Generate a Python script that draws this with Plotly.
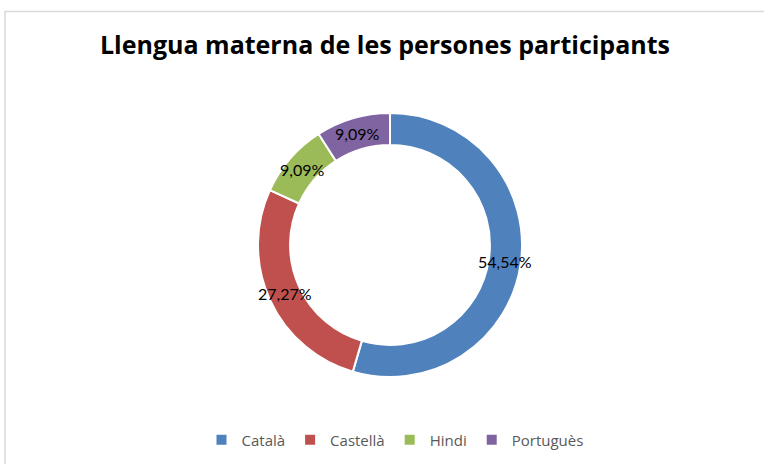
import math
import plotly.graph_objects as go

# Llengua materna - dades
llengues = ["Català", "Castellà", "Hindi", "Portuguès"]
percentatges = [54.54, 27.27, 9.09, 9.09]
etiquetes = ["54,54%", "27,27%", "9,09%", "9,09%"]
colors = ["#4F81BD", "#C0504D", "#9BBB59", "#8064A2"]

W, H = 764, 464
# donut geometry (px)
cx, cy, r_out = 390, 245, 132
hole = 0.757

fig = go.Figure()
fig.add_trace(go.Pie(
    labels=llengues,
    values=percentatges,
    textinfo="none",
    hole=hole,
    sort=False,
    direction="clockwise",
    rotation=0,
    marker=dict(colors=colors, line=dict(color="white", width=2)),
    domain=dict(x=[(cx - r_out) / W, (cx + r_out) / W],
                y=[(H - cy - r_out) / H, (H - cy + r_out) / H]),
    hoverinfo="label+percent",
))

# data labels centred on the ring, at each slice's mid angle
total = sum(percentatges)
r_mid = r_out * (1 + hole) / 2
acc = 0
annots = []
for val, txt in zip(percentatges, etiquetes):
    ang = 2 * math.pi * (acc + val / 2) / total
    acc += val
    px = cx + r_mid * math.sin(ang)
    py = cy - r_mid * math.cos(ang)
    annots.append(dict(
        x=px / W, y=1 - py / H, xref="paper", yref="paper",
        text=txt, showarrow=False, xanchor="center", yanchor="middle",
        font=dict(family="Lato", size=16, color="#000000"),
    ))

fig.update_layout(
    width=W, height=H,
    margin=dict(l=0, r=0, t=0, b=0),
    paper_bgcolor="white",
    plot_bgcolor="white",
    annotations=annots,
    title=dict(
        text="<b>Llengua materna de les persones participants</b>",
        x=385 / W, xanchor="center",
        y=1 - 45 / H, yanchor="middle",
        font=dict(family="Open Sans", size=25, color="#000000"),
    ),
    legend=dict(
        orientation="h",
        x=395 / W, xanchor="center",
        y=1 - 440 / H, yanchor="middle",
        font=dict(family="Open Sans", size=15, color="#595959"),
        itemwidth=30,
    ),
    shapes=[dict(
        type="rect", xref="paper", yref="paper",
        x0=5 / W, y0=-0.05, x1=1.05, y1=1 - 11.5 / H,
        line=dict(color="#D9D9D9", width=1.5),
    )],
)

fig.write_html("out.html", config={"displayModeBar": False},
               post_script="document.body.style.margin='0';")
